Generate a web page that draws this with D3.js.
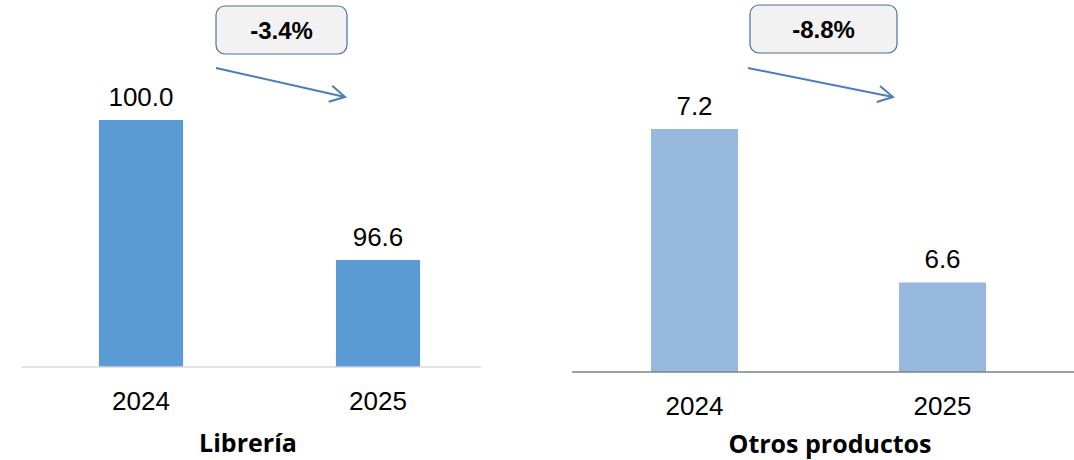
<!DOCTYPE html>
<html>
<head>
<meta charset="utf-8">
<script src="https://cdn.jsdelivr.net/npm/d3@7"></script>
<style>
  body { margin: 0; background: #fff; }
  svg { display: block; }
</style>
</head>
<body>
<div class="chart"></div>
<script>
var years = ['2024', '2025'];
var libreriaValues = [100.0, 96.6];
var otrosValues = [7.2, 6.6];
var titles = ['Librería', 'Otros productos'];
var changes = ['-3.4%', '-8.8%'];

var svg = d3.select('.chart')
  .append('svg')
  .attr('width', 1074)
  .attr('height', 460);

// one panel per product group
var panels = [
  {values: libreriaValues, title: titles[0], change: changes[0], color: '#5b9bd5', axisColor: '#d9d9d9',
   x0: 22, x1: 481, band: [22.5, 496.5], pad: 0.645, base: 367, top: 120, yMin: 94,
   titleX: 248, titleY: 452, box: [216, 6, 131, 48], arrow: [[216, 68], [345, 97]]},
  {values: otrosValues, title: titles[1], change: changes[1], color: '#97b9e0', axisColor: '#808080',
   x0: 572, x1: 1074, band: [570.5, 1066.5], pad: 0.649, base: 372, top: 129, yMin: 6.25,
   titleX: 830, titleY: 453, box: [750, 5, 147, 48], arrow: [[748, 68], [893, 97]]}
];

panels.forEach(function(p) {
  var g = svg.append('g');

  var xScale = d3.scaleBand()
    .domain(years)
    .range(p.band)
    .paddingInner(p.pad)
    .paddingOuter(p.pad / 2);

  var yScale = d3.scaleLinear()
    .domain([p.yMin, d3.max(p.values)])
    .range([p.base, p.top]);

  g.selectAll('rect.bar')
    .data(p.values)
    .enter()
    .append('rect')
    .attr('class', 'bar')
    .attr('x', (d, i) => xScale(years[i]))
    .attr('y', d => yScale(d))
    .attr('width', xScale.bandwidth())
    .attr('height', d => p.base - yScale(d))
    .attr('fill', p.color);

  g.selectAll('text.val')
    .data(p.values)
    .enter()
    .append('text')
    .attr('class', 'val')
    .attr('x', (d, i) => xScale(years[i]) + xScale.bandwidth() / 2)
    .attr('y', d => yScale(d) - 14)
    .attr('text-anchor', 'middle')
    .style('font-family', 'Liberation Sans, Arial, sans-serif')
    .style('font-size', '26px')
    .text(d => d.toFixed(1));

  var xAxis = g.append('g')
    .attr('transform', `translate(0, ${p.base})`)
    .call(d3.axisBottom(xScale).tickSize(0).tickPadding(25));
  xAxis.select('.domain').attr('stroke', p.axisColor).attr('stroke-width', 1.5)
    .attr('d', `M${p.x0},0H${p.x1}`);
  xAxis.selectAll('text')
    .style('font-family', 'Liberation Sans, Arial, sans-serif')
    .style('font-size', '26px')
    .attr('fill', '#000');

  g.append('text')
    .attr('x', p.titleX)
    .attr('y', p.titleY)
    .attr('text-anchor', 'middle')
    .style('font-family', 'Open Sans, sans-serif')
    .style('font-weight', 'bold')
    .style('font-size', '25px')
    .text(p.title);

  // change box
  g.append('rect')
    .attr('x', p.box[0]).attr('y', p.box[1])
    .attr('width', p.box[2]).attr('height', p.box[3])
    .attr('rx', 9)
    .attr('fill', '#f2f2f2')
    .attr('stroke', '#4f6f9f')
    .attr('stroke-width', 1.2);
  g.append('text')
    .attr('x', p.box[0] + p.box[2] / 2)
    .attr('y', p.box[1] + 33)
    .attr('text-anchor', 'middle')
    .style('font-family', 'Liberation Sans, Arial, sans-serif')
    .style('font-weight', 'bold')
    .style('font-size', '24px')
    .text(p.change);

  // arrow
  var a = p.arrow[0], b = p.arrow[1];
  var ang = Math.atan2(b[1] - a[1], b[0] - a[0]);
  var hl = 17, hw = 0.5;
  g.append('line')
    .attr('x1', a[0]).attr('y1', a[1]).attr('x2', b[0]).attr('y2', b[1])
    .attr('stroke', '#4a7ebb').attr('stroke-width', 2);
  g.append('path')
    .attr('d', `M${b[0] - hl * Math.cos(ang - hw)},${b[1] - hl * Math.sin(ang - hw)}L${b[0]},${b[1]}L${b[0] - hl * Math.cos(ang + hw)},${b[1] - hl * Math.sin(ang + hw)}`)
    .attr('fill', 'none')
    .attr('stroke', '#4a7ebb').attr('stroke-width', 2);
});
</script>
</body>
</html>
